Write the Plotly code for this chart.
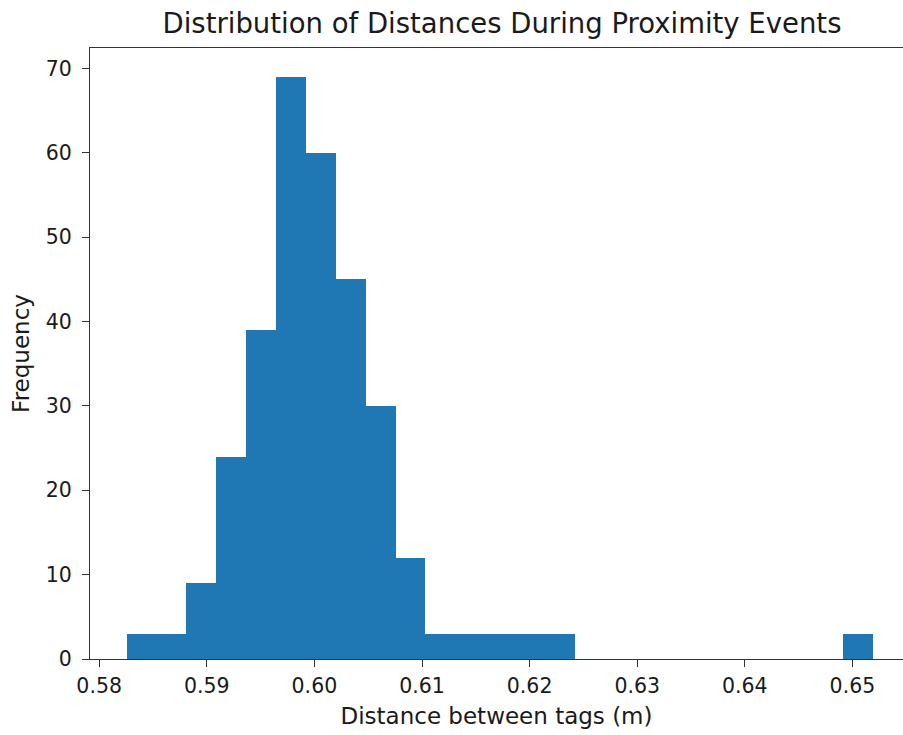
import numpy as np
import plotly.graph_objects as go

# Histogram data
bin_low = 0.58256
bin_high = 0.65194
counts = [3, 3, 9, 24, 39, 69, 60, 45, 30, 12, 3, 3, 3, 3, 3,
          0, 0, 0, 0, 0, 0, 0, 0, 0, 3]
x_tick_vals = [0.58, 0.59, 0.60, 0.61, 0.62, 0.63, 0.64, 0.65]
y_tick_vals = [0, 10, 20, 30, 40, 50, 60, 70]

edges = np.linspace(bin_low, bin_high, len(counts) + 1)
centers = (edges[:-1] + edges[1:]) / 2
bin_w = edges[1] - edges[0]

FONT = "DejaVu Sans"
TXT = "#1a1a1a"
LINE = "#333333"

fig = go.Figure(go.Bar(
    x=centers, y=counts, width=bin_w,
    marker=dict(color="#1f77b4", line=dict(width=0)),
    hoverinfo="x+y",
))

fig.update_layout(
    width=903, height=735,
    margin=dict(l=90, r=0, t=48, b=75.5, autoexpand=False),
    paper_bgcolor="white", plot_bgcolor="white",
    bargap=0, showlegend=False,
    font=dict(family=FONT, size=20, color=TXT),
    title=dict(text="Distribution of Distances During Proximity Events",
               x=502 / 903, xanchor="center", xref="container",
               y=1 - 23 / 735, yanchor="middle", yref="container",
               font=dict(family=FONT, size=27.5, color=TXT)),
)

fig.update_xaxes(
    range=[0.579145, 0.65470],
    tickvals=x_tick_vals, ticktext=[f"{v:.2f}" for v in x_tick_vals],
    ticks="outside", ticklen=7, tickwidth=1.3, tickcolor=LINE,
    ticklabelstandoff=1,
    showline=True, linecolor=LINE, linewidth=1.3, mirror=True,
    showgrid=False, zeroline=False, automargin=False,
    tickfont=dict(family=FONT, size=20.5, color=TXT),
    title=dict(text="Distance between tags (m)", standoff=11,
               font=dict(family=FONT, size=23, color=TXT)),
)
fig.update_yaxes(
    range=[0, 72.42],
    tickvals=y_tick_vals,
    ticks="outside", ticklen=7, tickwidth=1.3, tickcolor=LINE,
    ticklabelstandoff=6,
    showline=True, linecolor=LINE, linewidth=1.3, mirror=False,
    showgrid=False, zeroline=False, automargin=False,
    tickfont=dict(family=FONT, size=20.5, color=TXT),
    title=dict(text="Frequency", standoff=9,
               font=dict(family=FONT, size=23, color=TXT)),
)

# remove the page's default body margin so the figure fills the window exactly
fig.write_html("out.html",
               config={"displayModeBar": False},
               post_script="document.body.style.margin='0';"
                           "document.body.style.overflow='hidden';")
